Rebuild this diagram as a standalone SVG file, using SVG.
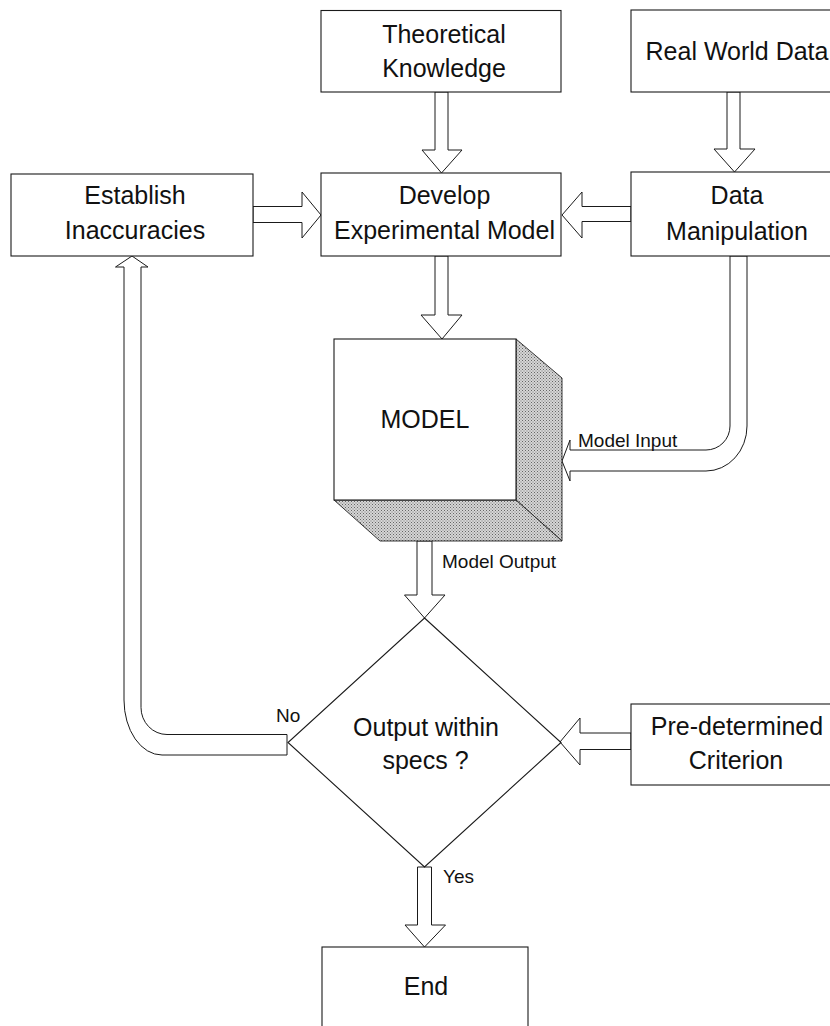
<svg xmlns="http://www.w3.org/2000/svg" width="830" height="1026" viewBox="0 0 830 1026">
<defs>
<style>
.box{fill:#fff;stroke:#1a1a1a;stroke-width:1.1}
.arr{fill:#fff;stroke:#1a1a1a;stroke-width:1;stroke-linejoin:miter}
.shade{fill:url(#dots);stroke:#222;stroke-width:0.9}
.t{font-family:"Liberation Sans",Arial,Helvetica,sans-serif;font-size:25px;fill:#111;text-anchor:middle}
.s{font-family:"Liberation Sans",Arial,Helvetica,sans-serif;font-size:19px;fill:#111}
</style>
<pattern id="dots" width="3" height="3" patternUnits="userSpaceOnUse">
<rect width="3" height="3" fill="#d6d6d6"/>
<rect x="0" y="0" width="1" height="1" fill="#666"/>
<rect x="1.5" y="1.5" width="1" height="1" fill="#777"/>
</pattern>
</defs>
<rect width="830" height="1026" fill="#fff"/>

<g id="connectors">
<polygon class="arr" points="435,92 448,92 448,150 462,150 441.5,173 422,150 435,150"/>
<polygon class="arr" points="727,92 740,92 740,149 755,149 734.5,172 714,149 727,149"/>
<polygon class="arr" points="253,206.5 302,206.5 302,192 321,215 302,238 302,222.5 253,222.5"/>
<polygon class="arr" points="631,206.5 582,206.5 582,192 562,215 582,238 582,221.5 631,221.5"/>
<polygon class="arr" points="435,256 448,256 448,315 462,315 442,339 421,315 435,315"/>
<path class="arr" d="M730,256 L730,426 A24 24 0 0 1 706,450 L570,450 L570,440 L562,461 L570,481 L570,471 L706,471 A41 45 0 0 0 747,426 L747,256 Z"/>
<polygon class="arr" points="417,541 432,541 432,595 445,595 424.5,618 404.5,595 417,595"/>
<polygon class="arr" points="631,733 580,733 580,718 560,742 580,765 580,749.5 631,749.5"/>
<polygon class="arr" points="417.5,867 431.5,867 431.5,925 445.5,925 424.5,947 405,925 417.5,925"/>
<path class="arr" d="M287,734.5 L167,734.5 A26 27 0 0 1 141,707.5 L141,267 L148,267 L132,256 L115.5,267 L124,267 L124,700 A38 55 0 0 0 162,755 L287,755 Z"/>
</g>

<g id="theoretical">
<rect class="box" x="321" y="10.5" width="240" height="81.5"/>
<text class="t" x="444" y="43">Theoretical</text>
<text class="t" x="444" y="77">Knowledge</text>
</g>

<g id="realworld">
<rect class="box" x="631" y="10" width="220" height="82"/>
<text class="t" x="737" y="60">Real World Data</text>
</g>

<g id="establish">
<rect class="box" x="11" y="174" width="242" height="82"/>
<text class="t" x="135" y="204">Establish</text>
<text class="t" x="135" y="239">Inaccuracies</text>
</g>

<g id="develop">
<rect class="box" x="321" y="173" width="240" height="83"/>
<text class="t" x="444.5" y="204">Develop</text>
<text class="t" x="444.5" y="239">Experimental Model</text>
</g>

<g id="datamanip">
<rect class="box" x="631" y="172" width="220" height="84"/>
<text class="t" x="737" y="204">Data</text>
<text class="t" x="737" y="240">Manipulation</text>
</g>

<g id="model">
<polygon class="shade" points="516,339 562,378 562,541 516,500"/>
<polygon class="shade" points="334,500 516,500 562,541 380,541"/>
<rect class="box" x="334" y="339" width="182" height="161"/>
<text class="t" x="425" y="428">MODEL</text>
</g>

<g id="labels">
<text class="s" x="578" y="447">Model Input</text>
<text class="s" x="442" y="568">Model Output</text>
<text class="s" x="276" y="722">No</text>
<text class="s" x="443" y="883">Yes</text>
</g>

<g id="decision">
<polygon class="box" points="424.5,618 561,742.5 424.5,867 288,742.5" style="fill:none"/>
<text class="t" x="426" y="736">Output within</text>
<text class="t" x="425.5" y="769">specs ?</text>
</g>

<g id="criterion">
<rect class="box" x="631" y="704" width="220" height="81"/>
<text class="t" x="737" y="735">Pre-determined</text>
<text class="t" x="736" y="769">Criterion</text>
</g>

<g id="end">
<rect class="box" x="322" y="947" width="206" height="100"/>
<text class="t" x="426" y="995">End</text>
</g>
</svg>
